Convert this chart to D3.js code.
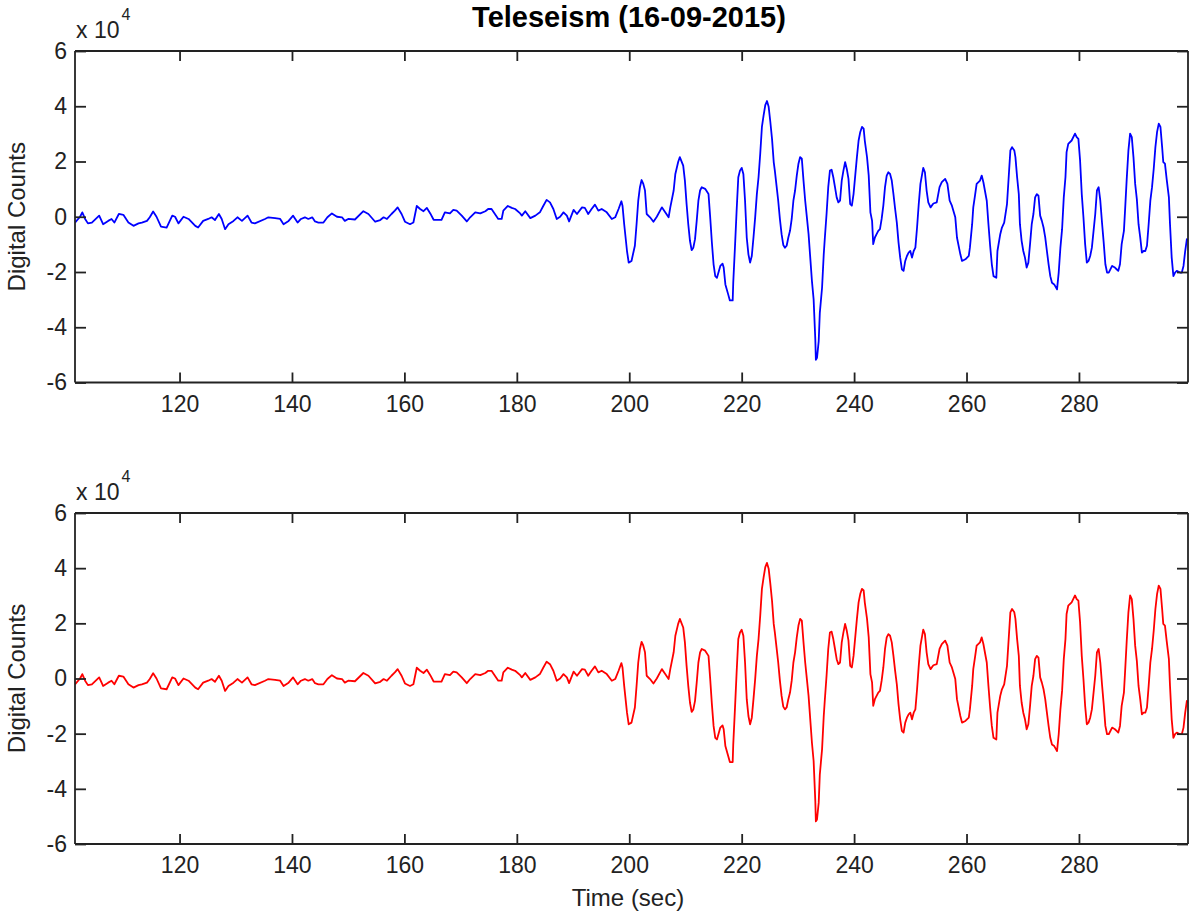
<!DOCTYPE html>
<html>
<head>
<meta charset="utf-8">
<script src="https://cdn.jsdelivr.net/npm/d3@7"></script>
<style>
  body { margin: 0; background: #fff; }
  svg { display: block; font-family: "Liberation Sans", Arial, sans-serif; }
  .axis path, .axis line { stroke: #222; stroke-width: 1.8; }
  .axis text { fill: #222; font-size: 23px; }
</style>
</head>
<body>
<svg width="1190" height="919"></svg>
<script>
// time (s) and ground motion (digital counts, x 10^4)
var timeSec = [
  101.4,102.3,102.7,103.2,103.7,104.4,105.7,106.4,107.3,107.9,108.4,109.2,110.0,110.9,111.8,112.7,113.3,114.2,114.7,115.3,
  115.9,116.7,117.7,118.7,119.2,119.8,120.7,121.6,122.8,123.3,124.2,125.1,125.7,126.3,127.0,127.5,128.1,128.7,129.6,130.3,
  131.1,132.1,132.8,133.4,135.2,135.8,137.0,137.9,138.5,139.4,140.2,141.0,141.6,142.3,142.9,143.6,144.1,144.7,145.6,146.3,
  147.1,148.0,148.9,149.4,150.0,151.2,152.7,153.6,154.8,155.7,156.3,156.9,157.7,158.3,158.8,159.5,160.1,161.0,161.6,162.2,
  162.8,163.4,164.0,164.6,165.2,166.6,167.2,168.1,168.7,169.3,170.2,171.1,171.7,172.6,173.5,174.4,174.9,175.5,176.1,176.7,
  177.3,177.6,178.4,179.1,179.7,180.6,180.9,181.5,182.4,183.3,184.1,184.7,185.3,185.9,186.5,187.1,187.7,188.3,188.9,189.3,
  190.1,190.7,191.6,192.1,192.7,193.3,193.9,194.5,195.1,196.0,196.9,197.5,198.1,198.6,198.8,199.1,199.6,199.9,200.4,201.0,
  201.3,201.6,201.9,202.2,202.5,202.8,203.1,203.7,204.3,204.9,205.8,206.4,207.0,207.3,207.9,208.2,208.7,209.0,209.6,209.9,
  210.2,210.5,210.8,211.1,211.4,211.7,212.0,212.3,212.6,212.9,213.5,214.1,214.4,214.7,215.0,215.3,215.6,216.2,216.6,216.8,
  217.1,217.6,217.9,218.4,218.5,218.8,219.1,219.4,219.7,220.0,220.3,220.6,220.9,221.2,221.5,221.8,222.1,222.4,222.7,223.0,
  223.3,223.6,223.9,224.2,224.5,224.8,225.1,225.4,225.7,225.9,226.2,226.5,226.8,227.1,227.4,227.7,228.0,228.3,228.6,228.9,
  229.2,229.5,229.8,230.1,230.4,230.7,231.0,231.3,231.6,231.9,232.2,232.5,232.8,233.1,233.2,233.4,233.7,233.9,234.3,234.6,
  234.8,235.1,235.4,235.7,236.0,236.3,236.6,236.9,237.2,237.5,237.8,238.1,238.4,238.7,239.0,239.3,239.6,239.9,240.2,240.5,
  240.8,241.1,241.4,241.7,241.9,242.3,242.6,242.9,243.2,243.4,243.7,244.0,244.3,244.6,244.9,245.2,245.5,245.8,246.1,246.4,
  246.7,247.0,247.3,247.6,247.9,248.2,248.5,248.8,249.1,249.4,249.7,250.0,250.3,250.6,250.9,251.2,251.5,251.8,252.3,252.6,
  252.9,253.2,253.6,254.1,254.7,255.2,255.6,256.2,256.6,257.0,257.4,258.0,258.3,258.9,259.2,259.8,260.4,260.6,261.0,261.2,
  261.5,261.8,262.4,262.7,263.0,263.6,263.9,264.2,264.5,264.8,265.3,265.5,266.0,266.3,266.7,267.2,267.5,267.8,268.1,268.5,
  268.7,269.0,269.3,269.5,269.8,270.1,270.4,270.7,271.0,271.3,271.6,271.9,272.2,272.5,272.8,273.1,273.4,273.7,274.0,274.3,
  274.6,274.9,275.2,275.6,276.1,276.4,276.7,277.0,277.3,277.6,277.8,278.1,278.7,279.3,279.6,279.9,280.2,280.5,280.8,281.1,
  281.4,281.7,282.0,282.3,282.6,282.9,283.2,283.5,283.8,284.1,284.4,284.7,285.0,285.3,285.9,286.4,286.7,287.0,287.3,287.6,
  288.0,288.2,288.5,288.8,289.1,289.4,289.7,290.0,290.3,290.6,290.9,291.2,291.5,291.8,292.1,292.4,292.7,293.0,293.3,293.6,
  293.9,294.2,294.5,294.8,295.0,295.3,295.6,296.0,296.2,296.5,296.8,297.1,297.4,298.0,298.3,298.6,298.9,299.2,299.5
];

var blueCounts = [
  -0.21,0.00,0.16,-0.08,-0.24,-0.21,0.04,-0.27,-0.15,-0.08,-0.21,0.10,0.07,-0.21,-0.33,-0.24,-0.21,-0.15,-0.02,0.19,
  0.00,-0.36,-0.39,0.04,0.00,-0.24,0.00,-0.08,-0.33,-0.39,-0.15,-0.08,-0.02,-0.12,0.10,-0.08,-0.45,-0.27,-0.15,-0.02,
  -0.15,0.04,-0.21,-0.24,-0.08,-0.02,-0.05,-0.08,-0.27,-0.15,0.04,-0.21,-0.08,-0.02,-0.08,-0.02,-0.17,-0.21,-0.21,-0.02,
  0.12,0.00,-0.02,-0.15,-0.08,-0.10,0.20,0.10,-0.18,-0.12,-0.02,-0.08,0.10,0.22,0.34,0.10,-0.18,-0.27,-0.21,0.39,
  0.28,0.20,0.32,0.12,-0.11,-0.11,0.16,0.12,0.25,0.22,0.04,-0.17,-0.02,0.16,0.12,0.20,0.28,0.28,0.10,-0.08,
  -0.08,0.22,0.39,0.32,0.28,0.12,0.04,0.20,-0.05,0.04,0.16,0.39,0.61,0.52,0.28,-0.08,0.00,0.16,0.04,-0.17,
  0.25,0.10,0.34,0.32,0.10,0.28,0.44,0.22,0.28,0.16,-0.08,-0.02,0.28,0.56,0.40,-0.27,-1.24,-1.66,-1.60,-1.05,
  -0.27,0.58,1.07,1.33,1.19,0.95,0.10,-0.02,-0.18,0.00,0.34,0.16,-0.02,0.34,0.95,1.55,1.98,2.16,1.85,1.31,
  0.46,-0.27,-0.87,-1.21,-1.12,-0.81,-0.15,0.58,0.95,1.07,1.01,0.82,-0.02,-0.93,-1.72,-2.15,-2.21,-1.78,-1.70,-1.84,
  -2.45,-2.81,-3.03,-3.03,-2.39,-1.12,0.22,1.43,1.67,1.77,1.55,0.58,-0.75,-1.36,-1.66,-1.42,-0.75,-0.02,0.82,1.43,
  2.28,3.25,3.67,4.04,4.19,3.98,3.43,2.82,1.98,1.67,1.13,0.58,-0.08,-0.63,-1.02,-1.12,-1.05,-0.75,-0.51,-0.08,
  0.58,0.95,1.49,1.92,2.16,2.10,1.31,0.58,-0.02,-0.63,-1.48,-2.33,-2.99,-4.45,-5.18,-5.11,-4.51,-3.48,-2.57,-1.36,
  -0.75,0.10,1.07,1.67,1.70,1.43,1.07,0.70,0.52,0.58,1.31,1.67,1.98,1.73,1.37,0.46,0.40,0.82,1.49,2.16,
  2.76,3.07,3.25,3.19,2.76,2.16,1.49,0.16,-0.15,-0.99,-0.75,-0.63,-0.51,-0.45,-0.08,0.40,1.07,1.49,1.61,1.55,
  1.31,0.82,0.28,-0.21,-0.93,-1.48,-1.90,-1.96,-1.60,-1.42,-1.30,-1.24,-1.48,-1.24,-1.12,-0.39,0.46,1.19,1.77,1.61,
  0.95,0.52,0.34,0.48,0.52,1.07,1.25,1.37,1.19,0.58,0.40,-0.02,-0.75,-1.36,-1.60,-1.54,-1.42,-1.12,-0.27,0.34,
  0.76,1.19,1.31,1.49,1.25,0.58,-0.27,-1.05,-1.72,-2.15,-2.21,-1.24,-0.63,-0.39,-0.21,0.46,1.43,2.40,2.52,2.40,
  2.16,1.43,0.82,-0.27,-0.87,-1.24,-1.48,-1.84,-1.66,-0.99,-0.27,0.10,0.70,0.82,0.76,0.04,-0.15,-0.39,-0.75,-1.24,
  -1.72,-2.15,-2.39,-2.45,-2.63,-2.02,-1.12,-0.45,0.70,1.43,2.34,2.64,2.76,3.01,2.88,2.82,2.04,0.82,-0.02,-0.99,
  -1.66,-1.60,-1.42,-1.12,-0.51,0.10,0.95,1.07,0.58,-0.21,-0.93,-1.72,-2.02,-2.02,-1.78,-1.84,-1.90,-1.96,-1.72,-0.99,
  -0.51,0.22,1.37,2.40,3.01,2.88,2.16,1.19,0.64,-0.27,-0.75,-1.30,-1.24,-1.24,-1.05,-0.27,0.58,1.07,1.73,2.52,
  3.07,3.37,3.25,2.52,1.98,1.92,1.37,0.70,-0.27,-1.48,-2.15,-2.02,-1.96,-2.02,-2.02,-1.78,-1.24,-0.81,-0.87
];

// second trace reads the same as the first at this resolution
var redCounts = blueCounts.slice();

var xTicks = [120, 140, 160, 180, 200, 220, 240, 260, 280];
var yTicks = [-6, -4, -2, 0, 2, 4, 6];
var xDomain = [101.4, 299.4];
var yDomain = [-6, 6];

var svg = d3.select("svg");

var left = 75, right = 1188;

var x = d3.scaleLinear().domain(xDomain).range([left, right]);

function drawPanel(top, bottom, values, color, id) {
  var y = d3.scaleLinear().domain(yDomain).range([bottom, top]);
  var g = svg.append("g");

  g.append("clipPath").attr("id", id)
    .append("rect")
    .attr("x", left).attr("y", top)
    .attr("width", right - left).attr("height", bottom - top);

  var line = d3.line()
    .x(function(d) { return x(d[0]); })
    .y(function(d) { return y(d[1]); });

  g.append("path")
    .datum(d3.zip(timeSec, values))
    .attr("clip-path", "url(#" + id + ")")
    .attr("fill", "none")
    .attr("stroke", color)
    .attr("stroke-width", 1.8)
    .attr("stroke-linejoin", "round")
    .attr("d", line);

  // box with inward ticks on all four sides
  g.append("g").attr("class", "axis")
    .attr("transform", "translate(0," + bottom + ")")
    .call(d3.axisBottom(x).tickValues(xTicks).tickSize(-10).tickPadding(13).tickFormat(d3.format("d")));
  g.append("g").attr("class", "axis")
    .attr("transform", "translate(0," + top + ")")
    .call(d3.axisTop(x).tickValues(xTicks).tickSize(-10).tickFormat(""));
  g.append("g").attr("class", "axis")
    .attr("transform", "translate(" + left + ",0)")
    .call(d3.axisLeft(y).tickValues(yTicks).tickSize(-11).tickPadding(8).tickFormat(function(d) { return String(d); }));
  g.append("g").attr("class", "axis")
    .attr("transform", "translate(" + right + ",0)")
    .call(d3.axisRight(y).tickValues(yTicks).tickSize(-11).tickFormat(""));

  g.selectAll(".axis .domain").attr("d", function() {
    return d3.select(this.parentNode).attr("transform").indexOf("translate(0") === 0
      ? "M" + left + ",0H" + right
      : "M0," + top + "V" + bottom;
  });

  // exponent label
  var ex = g.append("text")
    .attr("x", 76).attr("y", top - 13)
    .attr("fill", "#222").style("font-size", "23px");
  ex.append("tspan").text("x 10");
  ex.append("tspan").attr("dy", -18).attr("dx", 2).style("font-size", "16px").text("4");

  g.append("text")
    .attr("transform", "translate(25," + ((top + bottom) / 2) + ") rotate(-90)")
    .attr("text-anchor", "middle")
    .attr("fill", "#222")
    .style("font-size", "24px")
    .text("Digital Counts");
}

drawPanel(51, 382.5, blueCounts, "#0000ff", "clipTop");
drawPanel(513, 844, redCounts, "#ff0000", "clipBottom");

svg.append("text")
  .attr("x", 629).attr("y", 27)
  .attr("text-anchor", "middle")
  .attr("fill", "#000")
  .style("font-size", "29px")
  .style("font-weight", "bold")
  .text("Teleseism (16-09-2015)");

svg.append("text")
  .attr("x", 628).attr("y", 906)
  .attr("text-anchor", "middle")
  .attr("fill", "#222")
  .style("font-size", "24px")
  .text("Time (sec)");
</script>
</body>
</html>
